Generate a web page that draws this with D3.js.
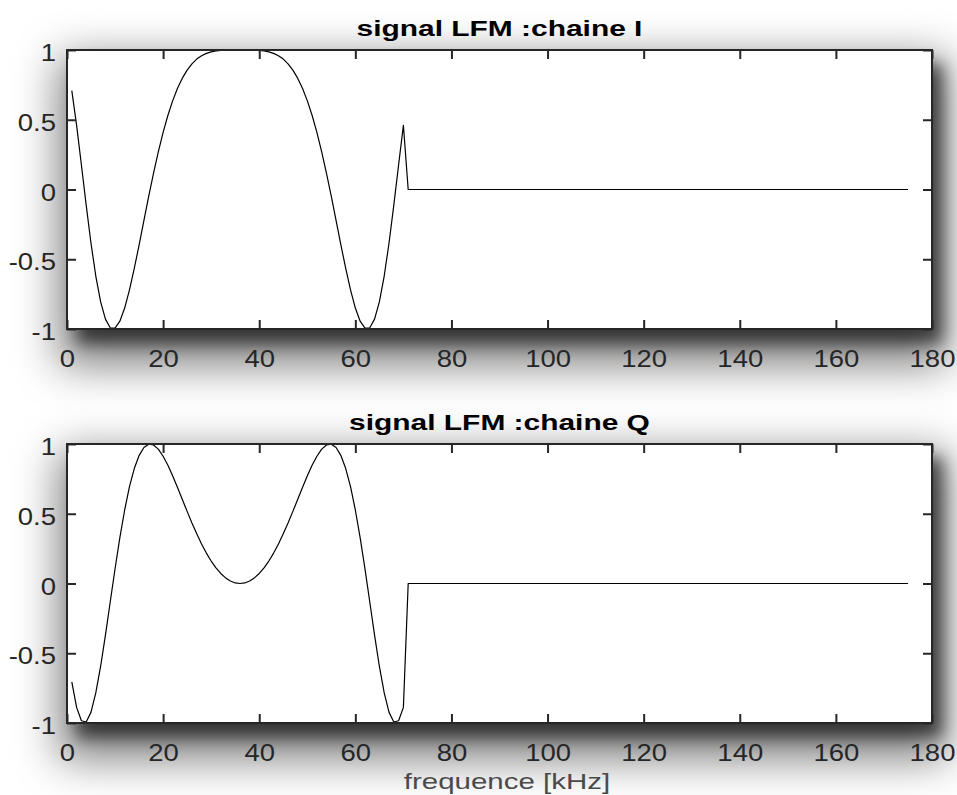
<!DOCTYPE html>
<html>
<head>
<meta charset="utf-8">
<script src="https://cdn.jsdelivr.net/npm/d3@7"></script>
<style>
  body { margin: 0; background: #fff; }
  svg { display: block; font-family: "Liberation Sans", Arial, sans-serif; }
</style>
</head>
<body>
<svg id="chart"></svg>
<script>
// sample frequencies (kHz) - the signal is zero from 71 up to 175
var freq = [1, 2, 3, 4, 5, 6, 7, 8, 9, 10, 11, 12, 13, 14, 15, 16, 17, 18, 19, 20,
  21, 22, 23, 24, 25, 26, 27, 28, 29, 30, 31, 32, 33, 34, 35, 36, 37, 38, 39, 40,
  41, 42, 43, 44, 45, 46, 47, 48, 49, 50, 51, 52, 53, 54, 55, 56, 57, 58, 59, 60,
  61, 62, 63, 64, 65, 66, 67, 68, 69, 70, 71, 175];

// chaine I
var chaineI = [0.709, 0.460, 0.176, -0.114, -0.387, -0.622, -0.805, -0.929, -0.991, -0.994,
  -0.944, -0.850, -0.720, -0.566, -0.398, -0.223, -0.050, 0.116, 0.270, 0.409,
  0.532, 0.637, 0.726, 0.798, 0.856, 0.901, 0.935, 0.959, 0.976, 0.987,
  0.994, 0.997, 0.999, 1.000, 1.000, 1.000, 1.000, 1.000, 0.999, 0.997,
  0.994, 0.987, 0.976, 0.959, 0.935, 0.901, 0.856, 0.798, 0.726, 0.637,
  0.532, 0.409, 0.270, 0.116, -0.050, -0.223, -0.398, -0.566, -0.720, -0.850,
  -0.944, -0.994, -0.991, -0.929, -0.805, -0.622, -0.387, -0.114, 0.176, 0.460,
  0, 0];

// chaine Q
var chaineQ = [-0.705, -0.888, -0.984, -0.993, -0.922, -0.783, -0.593, -0.370, -0.131, 0.106,
  0.329, 0.527, 0.694, 0.824, 0.917, 0.975, 0.999, 0.993, 0.963, 0.912,
  0.847, 0.771, 0.688, 0.602, 0.517, 0.434, 0.356, 0.283, 0.218, 0.161,
  0.112, 0.072, 0.040, 0.018, 0.004, 0.000, 0.004, 0.018, 0.040, 0.072,
  0.112, 0.161, 0.218, 0.283, 0.356, 0.434, 0.517, 0.602, 0.688, 0.771,
  0.847, 0.912, 0.963, 0.993, 0.999, 0.975, 0.917, 0.824, 0.694, 0.527,
  0.329, 0.106, -0.131, -0.370, -0.593, -0.783, -0.922, -0.993, -0.984, -0.888,
  0, 0];

var xTicks = [0, 20, 40, 60, 80, 100, 120, 140, 160, 180];
var yTicks = [-1, -0.5, 0, 0.5, 1];
var titles = ["signal LFM :chaine I", "signal LFM :chaine Q"];
var xLabel = "frequence [kHz]";

var width = 957,
    height = 795;

var svg = d3.select("#chart")
    .attr("width", width)
    .attr("height", height);

var left = 67, right = 932;
var panels = [
  { top: 50, bottom: 329, values: chaineI, title: titles[0] },
  { top: 444, bottom: 723, values: chaineQ, title: titles[1] }
];

var x = d3.scaleLinear()
    .domain([0, 180])
    .range([left, right]);

var tickColor = "#262626";

// blurred drop shadows
var defs = svg.append("defs");
[["blurNear", 8], ["blurFar", 22]].forEach(function(f) {
  defs.append("filter").attr("id", f[0])
      .attr("filterUnits", "userSpaceOnUse")
      .attr("x", -200).attr("y", -200).attr("width", width + 400).attr("height", height + 400)
    .append("feGaussianBlur").attr("stdDeviation", f[1]);
});

var shadows = svg.append("g");
panels.forEach(function(p) {
  var h = p.bottom - p.top,
      w = right - left;
  shadows.append("rect")
      .attr("x", left - 8).attr("y", p.top + 8)
      .attr("width", w + 24).attr("height", h + 28)
      .attr("fill", "#000").attr("fill-opacity", 0.5)
      .attr("filter", "url(#blurFar)");
  shadows.append("rect")
      .attr("x", left + 10).attr("y", p.top + 14)
      .attr("width", w).attr("height", h)
      .attr("fill", "#000").attr("fill-opacity", 0.6)
      .attr("filter", "url(#blurNear)");
});
panels.forEach(function(p) {
  shadows.append("rect")
      .attr("x", left).attr("y", p.top)
      .attr("width", right - left).attr("height", p.bottom - p.top)
      .attr("fill", "#fff");
});

panels.forEach(function(p, k) {
  var y = d3.scaleLinear()
      .domain([-1, 1])
      .range([p.bottom, p.top]);
  var h = p.bottom - p.top,
      w = right - left;

  // the signal
  var line = d3.line()
      .x(function(d, i) { return x(freq[i]); })
      .y(function(d) { return y(d); });

  svg.append("path")
      .datum(p.values)
      .attr("d", line)
      .attr("fill", "none")
      .attr("stroke", "#000")
      .attr("stroke-width", 1.2)
      .attr("stroke-linejoin", "round");

  // ticks on all four sides, pointing inwards
  var fmt = function(d) { return String(d); };

  var gb = svg.append("g")
      .attr("transform", "translate(0," + p.bottom + ")")
      .call(d3.axisBottom(x).tickValues(xTicks).tickSize(-9).tickSizeOuter(0).tickFormat(fmt));
  var gt = svg.append("g")
      .attr("transform", "translate(0," + p.top + ")")
      .call(d3.axisTop(x).tickValues(xTicks).tickSize(-9).tickSizeOuter(0).tickFormat(""));
  var gl = svg.append("g")
      .attr("transform", "translate(" + left + ",0)")
      .call(d3.axisLeft(y).tickValues(yTicks).tickSize(-9).tickSizeOuter(0).tickFormat(fmt));
  var gr = svg.append("g")
      .attr("transform", "translate(" + right + ",0)")
      .call(d3.axisRight(y).tickValues(yTicks).tickSize(-9).tickSizeOuter(0).tickFormat(""));

  [gb, gt, gl, gr].forEach(function(g) {
    g.select(".domain").remove();
    g.selectAll(".tick line").attr("stroke", tickColor).attr("stroke-width", 2);
  });

  gb.selectAll(".tick text")
      .attr("y", 0).attr("dy", 0)
      .attr("transform", "translate(0,37.5) scale(1.17,1)")
      .attr("fill", tickColor)
      .style("font-size", "23.5px");
  gl.selectAll(".tick text")
      .attr("x", 0).attr("dy", 0)
      .attr("transform", "translate(-11,10.5) scale(1.17,1)")
      .attr("fill", tickColor)
      .style("font-size", "23.5px");

  // box
  svg.append("rect")
      .attr("x", left).attr("y", p.top)
      .attr("width", w).attr("height", h)
      .attr("fill", "none")
      .attr("stroke", tickColor)
      .attr("stroke-width", 2);

  // title
  svg.append("text")
      .attr("transform", "translate(" + (left + w / 2) + "," + (p.top - 14.5) + ") scale(1.36,1)")
      .attr("text-anchor", "middle")
      .attr("font-weight", "bold")
      .attr("fill", "#000")
      .style("font-size", "22px")
      .text(p.title);
});

svg.append("text")
    .attr("transform", "translate(507,789) scale(1.34,1)")
    .attr("text-anchor", "middle")
    .attr("fill", "#4a4a4a")
    .style("font-size", "22px")
    .text(xLabel);
</script>
</body>
</html>
